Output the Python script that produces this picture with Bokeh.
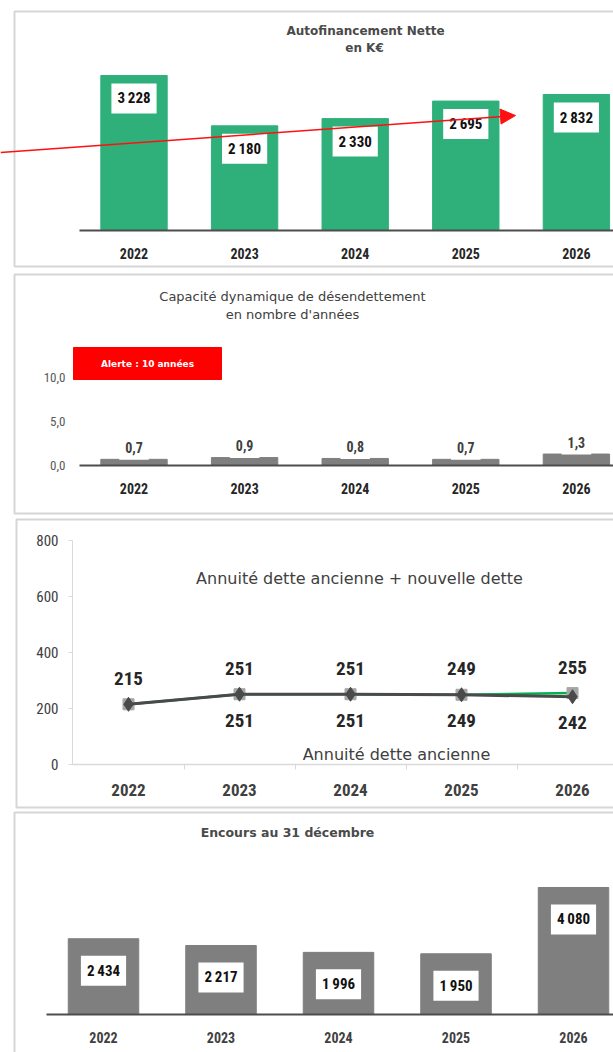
from bokeh.plotting import figure
from bokeh.layouts import column
from bokeh.models import Range1d, LinearAxis, FixedTicker, Label, Arrow, NormalHead, ColumnDataSource
from bokeh.core.properties import value
from bokeh.embed import file_html
from bokeh.resources import INLINE

# ---------------- data ----------------
years = ["2022", "2023", "2024", "2025", "2026"]
autofinancement = [3228, 2180, 2330, 2695, 2832]
capacite = [0.7, 0.9, 0.8, 0.7, 1.3]
annuite_ancienne = [215, 251, 251, 249, 242]
annuite_totale = [215, 251, 251, 249, 255]
encours = [2434, 2217, 1996, 1950, 4080]
alert_threshold = 10
cap_ticks = [0, 5, 10]
cap_tick_labels = ["0,0", "5,0", "10,0"]
ann_ticks = [0, 200, 400, 600, 800]

# ---------------- style ----------------
W = 613
PAGE_L, PAGE_R = 0, 613
NARROW = "Liberation Sans Narrow, Roboto Condensed, Roboto, sans-serif"
SANS = "DejaVu Sans"
GREEN = "#2fb07b"
GRAY = "#7f7f7f"
BORDER = "#d6d6d6"
xs = list(range(len(years)))


def fmt_k(v):
    return f"{v:,}".replace(",", "\u2009")


def fmt_dec(v):
    return f"{v:.1f}".replace(".", ",")


def make_fig(top, h, c0, s, y0, k):
    xr = Range1d((PAGE_L - c0) / s, (PAGE_R - c0) / s)
    yr = Range1d(-(top + h - y0) / k, (y0 - top) / k)
    p = figure(width=W, height=h, x_range=xr, y_range=yr, output_backend="svg",
               toolbar_location=None, x_axis_type=None, y_axis_type=None,
               min_border=0, min_border_left=0, min_border_right=0,
               min_border_top=0, min_border_bottom=0)
    p.outline_line_color = None
    p.background_fill_color = "white"
    p.border_fill_color = "white"
    X = lambda px: (px - c0) / s
    Y = lambda py: (y0 - py) / k
    return p, X, Y


def border(p, X, Y, t, b, l):
    p.quad(left=X(l), right=X(900), top=Y(t), bottom=Y(b), fill_color=None,
           line_color=BORDER, line_width=2)


def xaxis(p, X, start_px, line_color, line_width, size, color, standoff, minor=None):
    ax = LinearAxis(ticker=FixedTicker(ticks=xs, minor_ticks=minor or []), fixed_location=0)
    ax.major_label_overrides = {i: y for i, y in enumerate(years)}
    ax.bounds = (X(start_px), X(900))
    ax.axis_line_color = line_color
    ax.axis_line_width = line_width
    ax.major_tick_line_color = None
    ax.major_tick_out = 0
    ax.major_tick_in = 0
    if minor:
        ax.minor_tick_line_color = line_color
        ax.minor_tick_out = 5
        ax.minor_tick_in = 0
    else:
        ax.minor_tick_line_color = None
    ax.major_label_standoff = standoff
    ax.major_label_text_font = NARROW
    ax.major_label_text_font_style = "bold"
    ax.major_label_text_font_size = size
    ax.major_label_text_color = color
    p.add_layout(ax, "below")
    return ax


def title(p, x, y, text, size, style, color=None):
    p.add_layout(Label(x=x, y=y, text=text, text_align="center", text_baseline="middle",
                       text_font=SANS, text_font_size=size, text_font_style=style,
                       text_color=color or "#404040"))


# ---------------- panel 1 ----------------
p1, X1, Y1 = make_fig(0, 270, 133.5, 110.6, 230, 0.04802)
border(p1, X1, Y1, 11, 266, 14)
p1.vbar(x=xs, top=autofinancement, width=0.6, fill_color=GREEN, line_color=GREEN)
s1 = ColumnDataSource(dict(x=xs, y=autofinancement, t=[fmt_k(v) for v in autofinancement]))
p1.text(x="x", y="y", text="t", source=s1, y_offset=23, text_align="center",
        text_baseline="middle", text_font=value(NARROW), text_font_size="15px",
        text_font_style="bold", text_color="#111111", background_fill_color="white",
        padding=(6, 6))
xaxis(p1, X1, 79, "#4d4d4d", 2, "14px", "#262626", 17)
title(p1, X1(365), Y1(30), "Autofinancement Nette", "12px", "bold", "#4a4a4a")
title(p1, X1(364), Y1(47), "en K€", "12px", "bold", "#4a4a4a")
p1.add_layout(Arrow(x_start=X1(0), y_start=Y1(152), x_end=X1(515), y_end=Y1(115),
                    line_color="#ff1010", line_width=1.5,
                    end=NormalHead(size=15, fill_color="#ff1010", line_color="#ff1010")))

# ---------------- panel 2 ----------------
p2, X2, Y2 = make_fig(270, 246, 133.5, 110.6, 465, 8.8)
border(p2, X2, Y2, 274, 513, 14)
p2.vbar(x=xs, top=capacite, width=0.6, fill_color=GRAY, line_color=GRAY)
s2 = ColumnDataSource(dict(x=xs, y=capacite, t=[fmt_dec(v) for v in capacite]))
p2.text(x="x", y="y", text="t", source=s2, y_offset=-12, text_align="center",
        text_baseline="middle", text_font=value(NARROW), text_font_size="14px",
        text_font_style="bold", text_color="#404040", background_fill_color="white",
        padding=(6, 7))
xaxis(p2, X2, 79, "#4d4d4d", 2, "14px", "#262626", 17)
ay2 = LinearAxis(ticker=FixedTicker(ticks=cap_ticks), fixed_location=X2(79))
ay2.major_label_overrides = dict(zip(cap_ticks, cap_tick_labels))
ay2.axis_line_color = None
ay2.major_tick_line_color = None
ay2.minor_tick_line_color = None
ay2.major_tick_out = 0
ay2.major_label_standoff = 14
ay2.major_label_text_font = NARROW
ay2.major_label_text_font_size = "13px"
ay2.major_label_text_color = "#595959"
p2.add_layout(ay2, "left")
p2.quad(left=X2(73), right=X2(221), bottom=Y2(379), top=Y2(347), fill_color="#ff0000",
        line_color="#ff0000")
p2.add_layout(Label(x=X2(147), y=Y2(363), text="Alerte : 10 années", text_align="center",
                    text_baseline="middle", text_font=SANS, text_font_size="9px",
                    text_font_style="bold", text_color="white"))
title(p2, X2(292), Y2(296), "Capacité dynamique de désendettement", "13px", "normal")
title(p2, X2(292), Y2(314), "en nombre d'années", "13px", "normal")

# ---------------- panel 3 ----------------
p3, X3, Y3 = make_fig(516, 294, 128, 111, 764, 0.28)
border(p3, X3, Y3, 519, 807, 16)
xaxis(p3, X3, 72, "#d9d9d9", 1.5, "17px", "#404040", 14, minor=[0.5, 1.5, 2.5, 3.5, 4.5])
ay3 = LinearAxis(ticker=FixedTicker(ticks=ann_ticks), fixed_location=X3(72))
ay3.bounds = (0, 800)
ay3.axis_line_color = "#d9d9d9"
ay3.major_tick_line_color = "#d9d9d9"
ay3.minor_tick_line_color = None
ay3.major_tick_out = 4
ay3.major_tick_in = 0
ay3.major_label_standoff = 10
ay3.major_label_text_font = NARROW
ay3.major_label_text_font_size = "15px"
ay3.major_label_text_color = "#404040"
p3.add_layout(ay3, "left")
p3.line(xs, annuite_totale, line_color="#00b050", line_width=2.5)
p3.scatter(xs, annuite_totale, marker="square", size=11, fill_color="#a6a6a6", line_color="#a6a6a6")
p3.line(xs, annuite_ancienne, line_color="#4a4a4a", line_width=3)
p3.scatter(xs, annuite_ancienne, marker="diamond", size=14, fill_color="#4a4a4a", line_color="#4a4a4a")
s3a = ColumnDataSource(dict(x=xs, y=annuite_totale, t=[str(v) for v in annuite_totale]))
s3b = ColumnDataSource(dict(x=xs[1:], y=annuite_ancienne[1:], t=[str(v) for v in annuite_ancienne[1:]]))
for src, off in ((s3a, -26), (s3b, 26)):
    p3.text(x="x", y="y", text="t", source=src, y_offset=off, text_align="center",
            text_baseline="middle", text_font=value(NARROW), text_font_size="19px",
            text_font_style="bold", text_color="#262626")
p3.add_layout(Label(x=X3(359), y=Y3(578), text="Annuité dette ancienne + nouvelle dette",
                    text_align="center", text_baseline="middle", text_font=SANS,
                    text_font_size="16px", text_color="#404040"))
p3.add_layout(Label(x=X3(396), y=Y3(754), text="Annuité dette ancienne",
                    text_align="center", text_baseline="middle", text_font=SANS,
                    text_font_size="16px", text_color="#404040"))

# ---------------- panel 4 ----------------
p4, X4, Y4 = make_fig(810, 242, 103, 117.5, 1014, 0.03113)
border(p4, X4, Y4, 812, 1200, 14)
p4.vbar(x=xs, top=encours, width=0.6, fill_color=GRAY, line_color=GRAY)
s4 = ColumnDataSource(dict(x=xs, y=encours, t=[fmt_k(v) for v in encours]))
p4.text(x="x", y="y", text="t", source=s4, y_offset=32, text_align="center",
        text_baseline="middle", text_font=value(NARROW), text_font_size="15px",
        text_font_style="bold", text_color="#111111", background_fill_color="white",
        padding=(6, 6))
xaxis(p4, X4, 46, "#4d4d4d", 2, "14px", "#404040", 17)
title(p4, X4(287), Y4(832), "Encours au 31 décembre", "12.5px", "bold", "#4a4a4a")

layout = column(p1, p2, p3, p4, spacing=0)
open("out.html", "w").write(file_html(layout, INLINE))
